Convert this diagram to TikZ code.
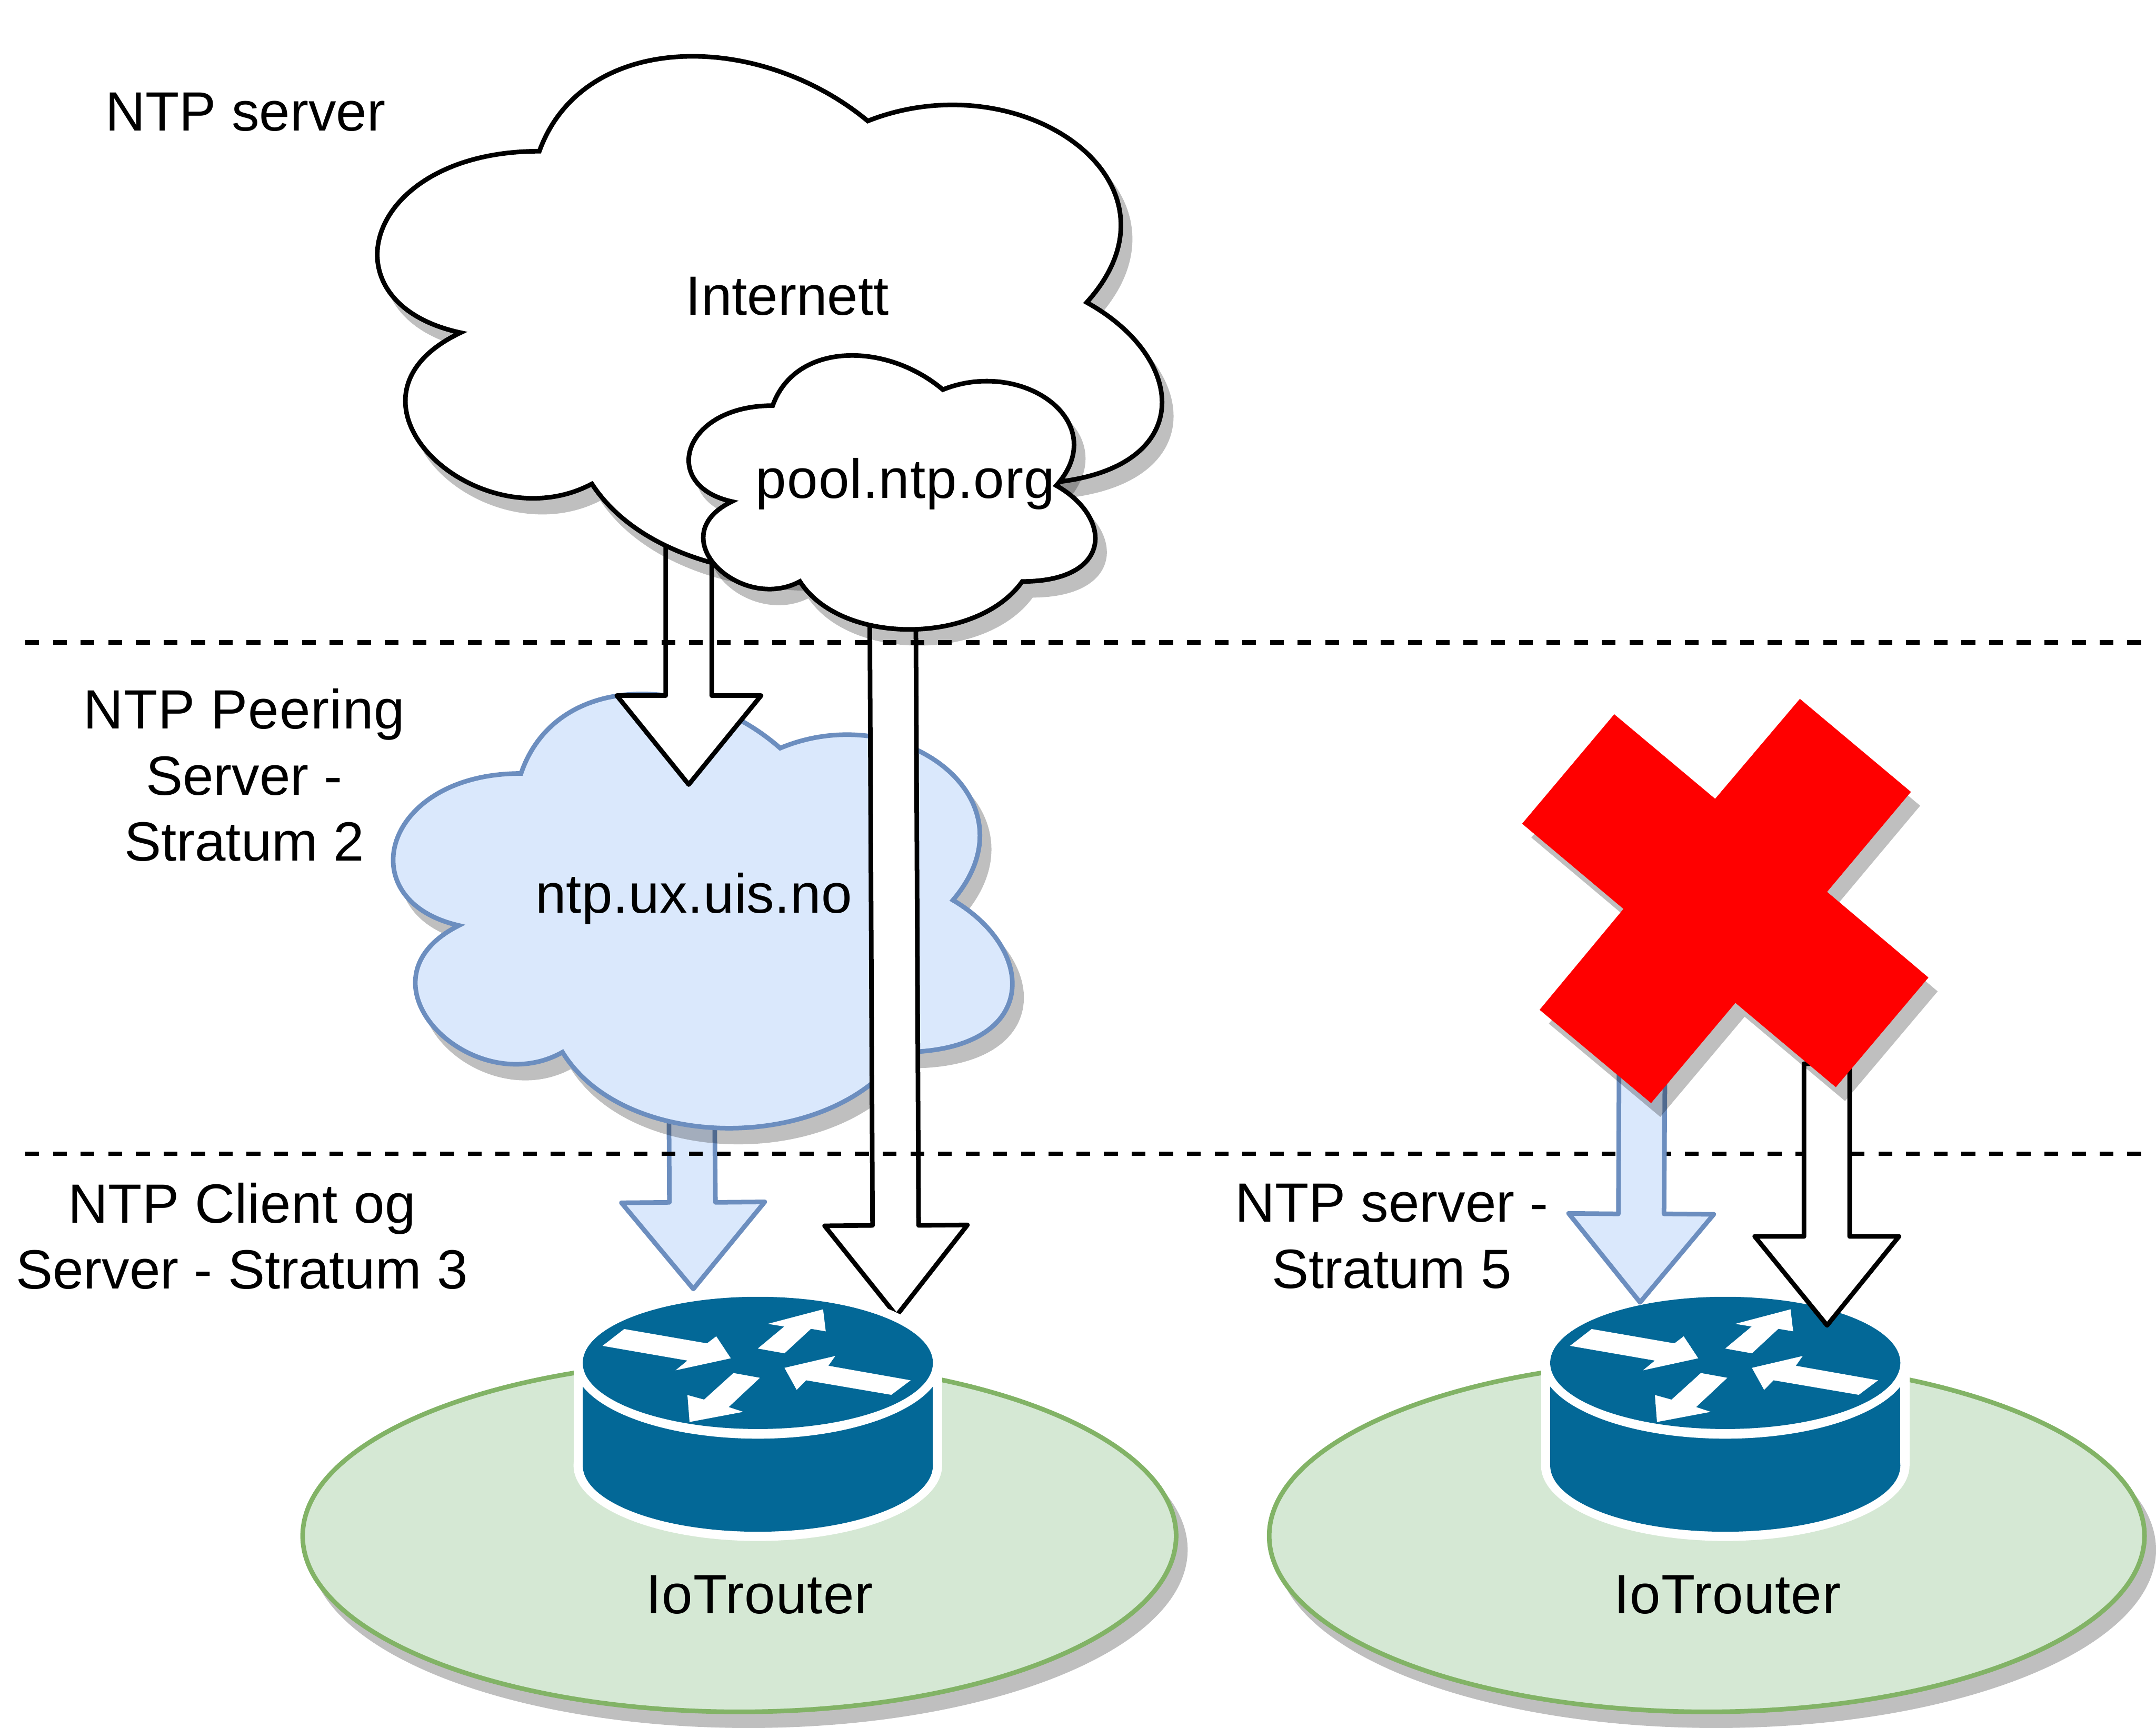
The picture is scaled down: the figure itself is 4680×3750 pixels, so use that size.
\documentclass[tikz,border=0pt]{standalone}
\usepackage{fontspec}
\setmainfont{Liberation Sans}
\definecolor{cloudblue}{HTML}{DAE8FC}
\definecolor{cloudedge}{HTML}{6C8EBF}
\definecolor{areagreen}{HTML}{D5E8D4}
\definecolor{areaedge}{HTML}{82B366}
\definecolor{routerblue}{HTML}{036897}
\newcommand{\cloudshape}[4]{({#1+.25*#3},{#2+.25*#4})
 .. controls ({#1+.05*#3},{#2+.25*#4}) and ({#1},{#2+.5*#4}) .. ({#1+.16*#3},{#2+.55*#4})
 .. controls ({#1},{#2+.66*#4}) and ({#1+.18*#3},{#2+.9*#4}) .. ({#1+.31*#3},{#2+.8*#4})
 .. controls ({#1+.4*#3},{#2+#4}) and ({#1+.7*#3},{#2+#4}) .. ({#1+.8*#3},{#2+.8*#4})
 .. controls ({#1+#3},{#2+.8*#4}) and ({#1+#3},{#2+.6*#4}) .. ({#1+.875*#3},{#2+.5*#4})
 .. controls ({#1+#3},{#2+.3*#4}) and ({#1+.8*#3},{#2+.1*#4}) .. ({#1+.625*#3},{#2+.2*#4})
 .. controls ({#1+.5*#3},{#2+.05*#4}) and ({#1+.3*#3},{#2+.05*#4}) .. cycle}
\newcommand{\routeicon}[1]{%
 \begin{scope}[xshift=#1*0.01cm]
  \fill[white] (1245,2958) rectangle (2045,3181);
  \fill[white] (1645,2958) ellipse [x radius=400,y radius=164];
  \fill[white] (1645,3181) ellipse [x radius=400,y radius=164];
  \fill[routerblue] (1265,2958) rectangle (2025,3181);
  \fill[routerblue] (1645,3181) ellipse [x radius=380,y radius=144];
  \fill[white] (1645,2958) ellipse [x radius=400,y radius=165];
  \fill[routerblue] (1645,2958.5) ellipse [x radius=380,y radius=143.5];
  \begin{scope}[shift={(1200,2750)},x=0.00574cm,y=-0.004145cm]
   \fill[white] (188,413)--(270,325)--(583,400)--(618,363)--(673,478)--(464,541)--(509,490)--cycle;
   \fill[white] (775,427)--(875,312)--(813,298)--(1022,222)--(1032,337)--(976,324)--(876,452)--cycle;
   \fill[white] (1353,593)--(1042,517)--(1068,466)--(876,528)--(922,643)--(958,593)--(1280,669)--cycle;
   \fill[white] (683,555)--(783,580)--(665,733)--(720,758)--(517,811)--(509,670)--(572,694)--cycle;
  \end{scope}
 \end{scope}}
\newcommand{\ls}[1]{\addfontfeature{LetterSpace=#1}}
\tikzset{
 shade layer/.style={transparency group,opacity=.25,xshift=0.2cm,yshift=-0.3cm},
 shade down/.style={fill=black,draw=black,line width=0.1cm},
 shade fill/.style={xshift=0.2cm,yshift=-0.3cm,fill=black,opacity=.25},
 whitecloud/.style={fill=white,draw=black,line width=0.1cm},
 bluecloud/.style={fill=cloudblue,draw=cloudedge,line width=0.1cm},
 whitearrow/.style={fill=white,draw=black,line width=0.1cm,line join=round},
 bluearrow/.style={fill=cloudblue,draw=cloudedge,line width=0.1cm,line join=round},
 greenarea/.style={fill=areagreen,draw=areaedge,line width=0.1cm},
 layerline/.style={draw=black,line width=0.1cm,dash pattern=on 0.3cm off 0.3cm},
 label text/.style={font=\fontsize{34.14pt}{40.83pt}\selectfont,align=center,inner sep=0pt,anchor=base,text=black},
}
\begin{document}
\begin{tikzpicture}[x=0.01cm,y=-0.01cm]
\useasboundingbox (0,0) rectangle (4680,3750);
\fill[white] (0,0) rectangle (4680,3750);
% network areas
\begin{scope}[shade layer]\path[shade down] (1605,3334) ellipse [x radius=948,y radius=382];\end{scope}
\path[greenarea] (1605,3334) ellipse [x radius=948,y radius=382];
\begin{scope}[shade layer]\path[shade down] (3705,3334) ellipse [x radius=950,y radius=382];\end{scope}
\path[greenarea] (3705,3334) ellipse [x radius=950,y radius=382];
% blue arrow below the campus cloud
\path[bluearrow] (1452,2400)--(1453,2610)--(1349,2611)--(1505,2798)--(1660,2609)--(1553,2610)--(1551,2400)--cycle;
% campus cloud
\begin{scope}[shade layer]\path[shade down] \cloudshape{756}{1404}{1500}{1100};\end{scope}
\path[bluecloud] \cloudshape{756}{1404}{1500}{1100};
% internet cloud and the arrow from it
\path[whitearrow] (1445,1100)--(1445,1510)--(1339,1510)--(1495,1703)--(1652,1510)--(1545,1510)--(1545,1100)--cycle;
\begin{scope}[shade layer]\path[shade down] \cloudshape{695.5}{0}{1901}{1313};\end{scope}
\path[whitecloud] \cloudshape{695.5}{0}{1901}{1313};
% arrow from pool
\path[whitearrow] (1888,1340)--(1894,2660)--(1790,2661)--(1946,2856)--(2100,2659)--(1994,2660)--(1988,1340)--cycle;
\begin{scope}[shade layer]\path[shade down] \cloudshape{1431}{707}{985}{694};\end{scope}
\path[whitecloud] \cloudshape{1431}{707}{985}{694};
% left router
\routeicon{0}
% layer lines
\coordinate (topstart) at (55,1394.5);
\coordinate (topend) at (4650,1394.5);
\coordinate (midstart) at (55,2504.5);
\coordinate (midend) at (4650,2504.5);
\path[layerline] (topstart) -- (topend);
\path[layerline] (midstart) -- (midend);
% right router and arrows
\routeicon{2100}
\path[bluearrow] (3515,2200)--(3513,2635)--(3405,2634)--(3560,2827)--(3720,2636)--(3612,2635)--(3615,2200)--cycle;
\path[whitearrow] (3916,2309)--(3916,2684)--(3809,2684)--(3966,2877)--(4122,2684)--(4015,2684)--(4015,2309)--cycle;
% red cross
\path[shade fill] (3504,1550.5)--(3723,1734)--(3907,1517)--(4148,1719)--(3966,1936)--(4186,2122)--(3985,2360)--(3767,2177)--(3584,2394.5)--(3342,2192)--(3524,1973)--(3304,1788)--cycle;
\fill[red] (3504,1550.5)--(3723,1734)--(3907,1517)--(4148,1719)--(3966,1936)--(4186,2122)--(3985,2360)--(3767,2177)--(3584,2394.5)--(3342,2192)--(3524,1973)--(3304,1788)--cycle;
% labels
\node[label text] (ntpserver) at (533,284) {NTP server};
\node[label text] (internet) at (1709,684) {Internett};
\node[label text] (pool) at (1965,1082) {\ls{1.1}pool.ntp.org};
\node[label text] (peering) at (530,1869) {{\ls{1}NTP Peering}\\Server -\\Stratum 2};
\node[label text] (uis) at (1506,1982) {\ls{0.5}ntp.ux.uis.no};
\node[label text] (client) at (525,2798) {{\ls{0.6}NTP Client og}\\Server - Stratum 3};
\node[label text] (server5) at (3021,2796) {NTP server -\\Stratum 5};
\node[label text] (routerleft) at (1649,3502) {\ls{1}IoTrouter};
\node[label text] (routerright) at (3750,3502) {\ls{1}IoTrouter};
\end{tikzpicture}
\end{document}
